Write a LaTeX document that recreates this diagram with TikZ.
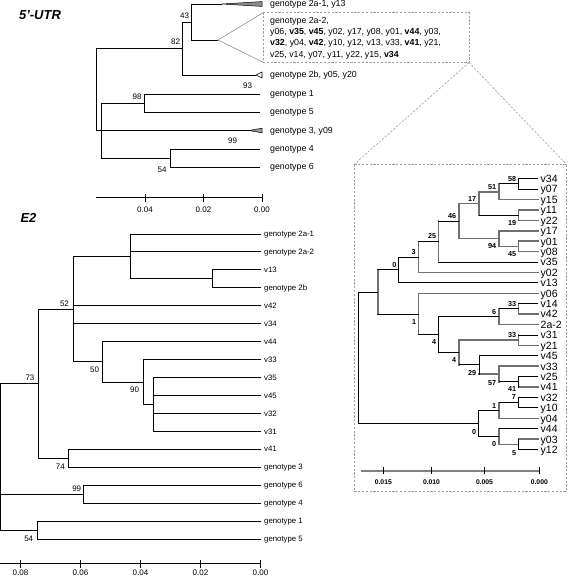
\documentclass[tikz,border=0pt]{standalone}
\usepackage{fontspec}
\setmainfont{Liberation Sans}
\begin{document}
\begin{tikzpicture}[x=1pt,y=-1pt,
  br/.style={line width=0.95pt, line cap=rect},
  ik/.style={line width=0.95pt, black, line cap=rect},
  ig/.style={line width=1.6pt, black!56, line cap=rect},
  dbox/.style={black!38, line width=0.6pt, dash pattern=on 2.2pt off 1.6pt},
  labu/.style={font=\fontsize{8.8}{10}\selectfont, anchor=base west, inner sep=0pt},
  labe/.style={font=\fontsize{7.8}{9}\selectfont, anchor=base west, inner sep=0pt},
  labi/.style={font=\fontsize{10.5}{12}\selectfont, anchor=base west, inner sep=0pt},
  bs/.style={font=\fontsize{8}{9}\selectfont, inner sep=0pt},
  bsi/.style={font=\fontsize{7.2}{8}\selectfont\bfseries, inner sep=0pt},
  sc/.style={font=\fontsize{8}{9}\selectfont, inner sep=0pt},
  sci/.style={font=\fontsize{6.8}{8}\selectfont\bfseries, inner sep=0pt},
  ttl/.style={font=\fontsize{13}{14}\selectfont\bfseries\itshape, inner sep=0pt}
]
\newcommand\hb[3][br]{\draw[#1] (#2|-#3)--(#3);}
\newcommand\vb[4][br]{\draw[#1] (#2|-#3)--(#2|-#4);}
\useasboundingbox (0,0) rectangle (568,577);

%================ 5'-UTR =================
\node[ttl] (t5) at (40,15) {5’-UTR};
\coordinate (uR) at (96,89.5);
\coordinate (u82) at (182,48.5);
\coordinate (u43) at (191,22);
\coordinate (u101) at (101,130.5);
\coordinate (u98) at (144,103);
\coordinate (u54) at (170,158);
\coordinate (u2a1) at (222,4);
\coordinate (u2a2) at (218,40);
\coordinate (u2b) at (256,75);
\coordinate (ug1) at (260,94);
\coordinate (ug5) at (260,112);
\coordinate (ug3) at (249,130.5);
\coordinate (ug4) at (260,149);
\coordinate (ug6) at (260,167);

\hb{uR}{u82}\hb{uR}{u101}\vb{uR}{u82}{u101}
\hb{u82}{u43}\hb{u82}{u2b}\vb{u82}{u43}{u2b}
\hb{u43}{u2a1}\hb{u43}{u2a2}\vb{u43}{u2a1}{u2a2}
\hb{u101}{u98}\hb{u101}{ug3}\hb{u101}{u54}\vb{u101}{u98}{u54}
\hb{u98}{ug1}\hb{u98}{ug5}\vb{u98}{ug1}{ug5}
\hb{u54}{ug4}\hb{u54}{ug6}\vb{u54}{ug4}{ug6}

% collapsed clades
\draw[line width=0.5pt, fill=black!45] (u2a1) -- (262,1.6) -- (262,6.4) -- cycle;
\draw[line width=0.5pt, fill=black!40] (ug3) -- (262,128.2) -- (262,132.8) -- cycle;
\draw[line width=0.6pt, fill=white] (u2b) -- (262,72) -- (262,78) -- cycle;
\coordinate (bx1) at (263.5,12.5);
\coordinate (bx2) at (469,62.5);
\draw[black!50, line width=0.5pt] (bx1) -- (u2a2) -- (bx1|-bx2);
\draw[dbox] (bx1) rectangle (bx2);

\node[labu] (l2a1) at (270,7) {genotype 2a-1, y13};
\node[labu] (lb1) at (270,23.3) {genotype 2a-2,};
\node[labu] (lb2) at (270,34.7) {y06, \textbf{v35}, \textbf{v45}, y02, y17, y08, y01, \textbf{v44}, y03,};
\node[labu] (lb3) at (270,46) {\textbf{v32}, y04, \textbf{v42}, y10, y12, v13, v33, \textbf{v41}, y21,};
\node[labu] (lb4) at (270,57.3) {v25, v14, y07, y11, y22, y15, \textbf{v34}};
\node[labu] (l2b) at (270,78) {genotype 2b, y05, y20};
\node[labu] (lg1) at (270,97) {genotype 1};
\node[labu] (lg5) at (270,115) {genotype 5};
\node[labu] (lg3) at (270,133.5) {genotype 3, y09};
\node[labu] (lg4) at (270,152) {genotype 4};
\node[labu] (lg6) at (270,170) {genotype 6};

\node[bs] (b43) at (184.5,16) {43};
\node[bs] (b82) at (175.5,42) {82};
\node[bs] (b98) at (137,96.5) {98};
\node[bs] (b93) at (247.5,86) {93};
\node[bs] (b99u) at (232.5,141) {99};
\node[bs] (b54u) at (162,169.5) {54};

% scale
\coordinate (us0) at (96,197.7);
\coordinate (us1) at (262,197.7);
\draw[br] (us0) -- (us1);
\foreach \x/\t in {145/0.04, 203.5/0.02, 262/0.00}{
  \draw[line width=0.95pt] (\x,193.8) -- (\x,201.5);
  \node[sc] at (\x,210) {\t};
}

%================ E2 =================
\node[ttl] (tE2) at (28.5,217.5) {E2};
\foreach \n/\i in {e2a1/0,e2a2/1,ev13/2,e2b/3,ev42/4,ev34/5,ev44/6,ev33/7,ev35/8,ev45/9,ev32/10,ev31/11,ev41/12,eg3/13,eg6/14,eg4/15,eg1/16,eg5/17}{
  \coordinate (\n) at (261,{234+17.94*\i});
}
\coordinate (ea) at (212,278.9);
\coordinate (eb) at (130,256.4);
\coordinate (e90b) at (153,404.4);
\coordinate (e90) at (143,382);
\coordinate (e50) at (102,361.8);
\coordinate (e52) at (73,309.1);
\coordinate (e74) at (68,458.3);
\coordinate (e73) at (38,383.7);
\coordinate (e99) at (83,494.1);
\coordinate (e54) at (37,530);
\coordinate (eR) at (0.8,457);

\hb{ea}{ev13}\hb{ea}{e2b}\vb{ea}{ev13}{e2b}
\hb{eb}{e2a1}\hb{eb}{e2a2}\hb{eb}{ea}\vb{eb}{e2a1}{ea}
\hb{e90b}{ev35}\hb{e90b}{ev45}\hb{e90b}{ev32}\hb{e90b}{ev31}\vb{e90b}{ev35}{ev31}
\hb{e90}{ev33}\hb{e90}{e90b}\vb{e90}{ev33}{e90b}
\hb{e50}{ev44}\hb{e50}{e90}\vb{e50}{ev44}{e90}
\hb{e52}{eb}\hb{e52}{ev42}\hb{e52}{ev34}\hb{e52}{e50}\vb{e52}{eb}{e50}
\hb{e74}{ev41}\hb{e74}{eg3}\vb{e74}{ev41}{eg3}
\hb{e73}{e52}\hb{e73}{e74}\vb{e73}{e52}{e74}
\hb{e99}{eg6}\hb{e99}{eg4}\vb{e99}{eg6}{eg4}
\hb{e54}{eg1}\hb{e54}{eg5}\vb{e54}{eg1}{eg5}
\hb{eR}{e73}\hb{eR}{e99}\hb{eR}{e54}\vb{eR}{e73}{e54}

\foreach \n/\t in {e2a1/genotype 2a-1,e2a2/genotype 2a-2,ev13/v13,e2b/genotype 2b,ev42/v42,ev34/v34,ev44/v44,ev33/v33,ev35/v35,ev45/v45,ev32/v32,ev31/v31,ev41/v41,eg3/genotype 3,eg6/genotype 6,eg4/genotype 4,eg1/genotype 1,eg5/genotype 5}{
  \node[labe] (l\n) at ([xshift=3pt,yshift=-2.7pt]\n) {\t};
}
\node[bs] (b52) at (64.5,303.5) {52};
\node[bs] (b50) at (94.5,370) {50};
\node[bs] (b90) at (134.5,390) {90};
\node[bs] (b73) at (30,378) {73};
\node[bs] (b74) at (60.3,467) {74};
\node[bs] (b99e) at (76.7,488.5) {99};
\node[bs] (b54e) at (28.7,539) {54};

\coordinate (es0) at (0,563.3);
\coordinate (es1) at (261,563.3);
\draw[br] (es0) -- (es1);
\foreach \x/\t in {20.5/0.08, 80.5/0.06, 140.5/0.04, 200.5/0.02, 260.5/0.00}{
  \draw[line width=0.95pt] (\x,559.5) -- (\x,567.5);
  \node[sc] at (\x,572.3) {\t};
}

%================ inset =================
\coordinate (ib1) at (354,164.5);
\coordinate (ib2) at (566.5,491);
\draw[dbox] (bx2) -- (ib1);
\draw[dbox] (bx2) -- (ib2|-ib1);
\draw[dbox] (ib1) rectangle (ib2);

\foreach \n/\i in {v34/0,y07/1,y15/2,y11/3,y22/4,y17/5,y01/6,y08/7,v35/8,y02/9,v13/10,y06/11,v14/12,v42/13,2a-2/14,v31/15,y21/16,v45/17,v33/18,v25/19,v41/20,v32/21,y10/22,y04/23,v44/24,y03/25,y12/26}{
  \coordinate (i\n) at (538,{178.7+10.42*\i});
  \node[labi] (li\n) at ([xshift=2.5pt,yshift=-3.8pt]i\n) {\n};
}
\coordinate (N58) at (518.3,183.91);
\coordinate (N51) at (499,191.73);
\coordinate (N19) at (518.3,215.17);
\coordinate (N17) at (479,203.45);
\coordinate (N45) at (518.3,246.43);
\coordinate (N94) at (499,238.62);
\coordinate (N46) at (459,221.03);
\coordinate (N25) at (438.3,241.55);
\coordinate (N3) at (418.3,257.01);
\coordinate (N0a) at (398.3,269.96);
\coordinate (N33) at (518.3,308.95);
\coordinate (N6) at (499,316.77);
\coordinate (N33b) at (518.3,340.21);
\coordinate (N41) at (518.3,381.89);
\coordinate (N57) at (499,374.07);
\coordinate (N29) at (479,364.96);
\coordinate (N4b) at (459,352.58);
\coordinate (N4a) at (438.3,334.68);
\coordinate (N1) at (418.3,314.0);
\coordinate (N0) at (377.7,291.98);
\coordinate (N7) at (518.3,402.73);
\coordinate (N1b) at (499,410.55);
\coordinate (N5) at (518.3,444.41);
\coordinate (N0c) at (499,436.6);
\coordinate (N0b) at (478.3,423.57);
\coordinate (NR) at (358.3,357.8);

% gray branches first, black on top
\vb[ig]{N0}{N0a}{N1}
\vb[ig]{N3}{N25}{iy02}\hb[ig]{N3}{iy02}
\vb[ig]{N25}{N46}{iv35}
\vb[ig]{N46}{N17}{N94}\hb[ig]{N46}{N17}\hb[ig]{N46}{N94}
\vb[ig]{N17}{N51}{N19}\hb[ig]{N17}{N51}
\vb[ig]{N51}{N58}{iy15}\hb[ig]{N51}{iy15}
\vb[ig]{N19}{iy11}{iy22}\hb[ig]{N19}{iy11}\hb[ig]{N19}{iy22}
\vb[ig]{N94}{iy17}{N45}\hb[ig]{N94}{iy17}\hb[ig]{N94}{N45}
\vb[ig]{N45}{iy01}{iy08}\hb[ig]{N45}{iy01}\hb[ig]{N45}{iy08}
\vb[ig]{N1}{iy06}{N4a}\hb[ig]{N1}{iy06}
\vb[ig]{N6}{N33}{i2a-2}\hb[ig]{N6}{i2a-2}
\vb[ig]{N33}{iv14}{iv42}\hb[ig]{N33}{iv42}
\vb[ig]{N4b}{N33b}{N29}\hb[ig]{N4b}{N33b}
\vb[ig]{N33b}{iv31}{iy21}\hb[ig]{N33b}{iy21}
\hb[ig]{N29}{N57}
\vb[ig]{N57}{iv33}{N41}\hb[ig]{N57}{iv33}
\hb[ig]{N41}{iv41}
\vb[ig]{N1b}{N7}{iy04}\hb[ig]{N1b}{iy04}
\vb[ig]{N0c}{iv44}{N5}\hb[ig]{N0c}{N5}
\hb[ig]{N5}{iy03}

\vb[ik]{NR}{N0}{N0b}\hb[ik]{NR}{N0}\hb[ik]{NR}{N0b}
\hb[ik]{N0}{N0a}\hb[ik]{N0}{N1}
\vb[ik]{N0a}{N3}{iv13}\hb[ik]{N0a}{N3}\hb[ik]{N0a}{iv13}
\hb[ik]{N3}{N25}
\hb[ik]{N25}{N46}\hb[ik]{N25}{iv35}
\hb[ik]{N17}{N19}
\hb[ik]{N51}{N58}
\vb[ik]{N58}{iv34}{iy07}\hb[ik]{N58}{iv34}\hb[ik]{N58}{iy07}
\hb[ik]{N1}{N4a}
\vb[ik]{N4a}{N6}{N4b}\hb[ik]{N4a}{N6}\hb[ik]{N4a}{N4b}
\hb[ik]{N6}{N33}
\hb[ik]{N33}{iv14}
\hb[ik]{N4b}{N29}
\hb[ik]{N33b}{iv31}
\vb[ik]{N29}{iv45}{N57}\hb[ik]{N29}{iv45}
\hb[ik]{N57}{N41}
\vb[ik]{N41}{iv25}{iv41}\hb[ik]{N41}{iv25}
\vb[ik]{N0b}{N1b}{N0c}\hb[ik]{N0b}{N1b}\hb[ik]{N0b}{N0c}
\hb[ik]{N1b}{N7}
\vb[ik]{N7}{iv32}{iy10}\hb[ik]{N7}{iv32}\hb[ik]{N7}{iy10}
\hb[ik]{N0c}{iv44}
\vb[ik]{N5}{iy03}{iy12}\hb[ik]{N5}{iy12}

\foreach \x/\y/\t in {512.2/178.8/58, 492.2/187.2/51, 472.2/198.7/17, 512.2/222.8/19, 452/216.2/46, 492/245.7/94, 512/254.5/45, 432.2/236.3/25, 413.7/251.7/3, 394.3/265.3/0, 512.2/304.2/33, 494/311.8/6, 414/321.7/1, 434.2/342.5/4, 512.2/334.8/33, 454.2/360/4, 472.2/373.3/29, 492.2/382.7/57, 512.2/389.3/41, 513.8/397.2/7, 494/405.8/1, 474.2/431.7/0, 494.2/444.2/0, 514.2/452.7/5}{
  \node[bsi] at (\x,\y) {\t};
}

\coordinate (is0) at (361,470.7);
\coordinate (is1) at (539.3,470.7);
\draw[line width=1.8pt, black!50] (is0) -- (is1);
\foreach \x/\t in {383.3/0.015, 431.5/0.010, 484.5/0.005, 539.3/0.000}{
  \draw[line width=0.9pt] (\x,466.8) -- (\x,474.3);
  \node[sci] at (\x,482.2) {\t};
}
\end{tikzpicture}
\end{document}
